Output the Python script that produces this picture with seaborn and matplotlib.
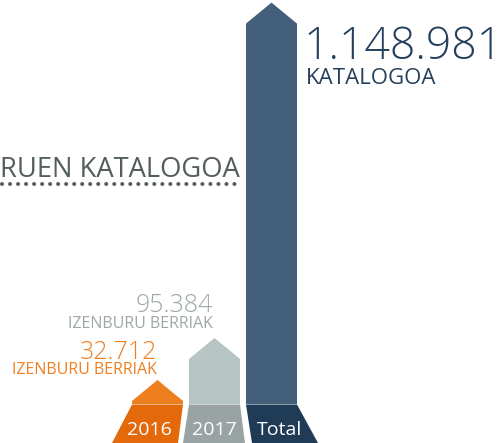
import numpy as np
import pandas as pd
import matplotlib
matplotlib.use("Agg")
import matplotlib.pyplot as plt
import matplotlib.transforms as mtransforms
from matplotlib.patches import Polygon
from matplotlib.lines import Line2D
import seaborn as sns

# ---- data ----
categories = ["2016", "2017", "Total"]
values = [32712, 95384, 1148981]
value_captions = ["IZENBURU BERRIAK", "IZENBURU BERRIAK", "KATALOGOA"]
side_caption = "RUEN KATALOGOA"

# ---- style ----
body_colors = ["#EE7F1E", "#B7C4C4", "#445F7A"]
base_colors = ["#E3690B", "#9AA3A3", "#1F3B55"]
text_colors = ["#EE7F1E", "#9EA7A7", "#23405C"]
side_color = "#555E5E"

W, H = 502, 443
DPI = 100
BASE_PX = 404          # baseline of the columns, pixels from top
ROOF_PX = 21           # height of the pointed roof
EXP = 0.645            # power scale exponent for the value axis

sns.set_theme(style="white")
plt.rcParams["font.family"] = ["Open Sans", "DejaVu Sans"]

fig = plt.figure(figsize=(W / DPI, H / DPI), dpi=DPI)
fig.patch.set_facecolor("white")
ax = fig.add_axes([0, (H - BASE_PX) / H, 1, BASE_PX / H])
ax.set_facecolor("none")

df = pd.DataFrame({"category": categories, "value": values})
sns.barplot(data=df, x="category", y="value", hue="category",
            palette=body_colors, width=0.895, saturation=1,
            legend=False, ax=ax)

ax.set_yscale("function", functions=(
    lambda v: np.power(np.clip(v, 0, None), EXP),
    lambda u: np.power(np.clip(u, 0, None), 1 / EXP)))
ax.set_ylim(8900, 1.16e6)
ax.set_xlim(-157.5 / 57, (W - 157.5) / 57)
ax.axis("off")

ident = mtransforms.IdentityTransform()


def px(x, y_top):
    """figure-fraction coordinates from pixel position measured from the top"""
    return x / W, 1 - y_top / H


# turn each bar into an arrow-shaped column
ybot = ax.get_ylim()[0]
bar_patches = list(ax.patches)
bottom_shift = [(-20, -5), (-6, 5), (6, 21)]
label_shift = [-8.5, 0, 8.5]
for i, p in enumerate(bar_patches):
    x0, w, top = p.get_x(), p.get_width(), p.get_y() + p.get_height()
    p.set_visible(False)
    xm = x0 + w / 2
    peak = ax.transData.transform((xm, top))
    sh_y = ax.transData.inverted().transform((peak[0], peak[1] - ROOF_PX))[1]
    verts = [(x0, ybot), (x0 + w, ybot), (x0 + w, sh_y), (xm, top), (x0, sh_y)]
    ax.add_patch(Polygon(verts, closed=True, facecolor=body_colors[i],
                         edgecolor="none", zorder=3))

    # trapezoid base with the category name
    lx = ax.transData.transform((x0, ybot))[0]
    rx = ax.transData.transform((x0 + w, ybot))[0]
    top_y = H - BASE_PX - 0.5
    dl, dr = bottom_shift[i]
    trap = [(lx, top_y), (rx, top_y), (rx + dr, 0), (lx + dl, 0)]
    fig.add_artist(Polygon(trap, closed=True, facecolor=base_colors[i],
                           edgecolor="none", transform=ident, clip_on=False))
    cx = ax.transData.transform((xm, ybot))[0] + label_shift[i]
    fig.text(*px(cx, 435), categories[i], color="white", fontsize=14,
             ha="center", va="baseline")


def fmt(v):
    return f"{v:,}".replace(",", ".")


# value labels
fig.text(*px(157, 359), fmt(values[0]), color=text_colors[0], fontsize=18,
         ha="right", va="baseline", fontweight="light")
fig.text(*px(157, 374), value_captions[0], color=text_colors[0], fontsize=11.5,
         ha="right", va="baseline")
fig.text(*px(213, 312), fmt(values[1]), color=text_colors[1], fontsize=18,
         ha="right", va="baseline", fontweight="light")
fig.text(*px(213, 328), value_captions[1], color=text_colors[1], fontsize=11.5,
         ha="right", va="baseline")
fig.text(*px(304, 59), fmt(values[2]), color=text_colors[2], fontsize=32,
         ha="left", va="baseline", fontweight="light")
fig.text(*px(306, 83.5), value_captions[2], color=text_colors[2], fontsize=16,
         ha="left", va="baseline")

# side caption with dotted leader
fig.text(*px(240, 177), side_caption, color=side_color, fontsize=19.7,
         ha="right", va="baseline")
fig.add_artist(Line2D([2, 240], [H - 184, H - 184], transform=ident,
                      color=side_color, lw=2.9, linestyle=(0, (0.01, 1.98)),
                      dash_capstyle="round", solid_capstyle="round"))

fig.savefig("out.png", dpi=DPI, facecolor="white")
